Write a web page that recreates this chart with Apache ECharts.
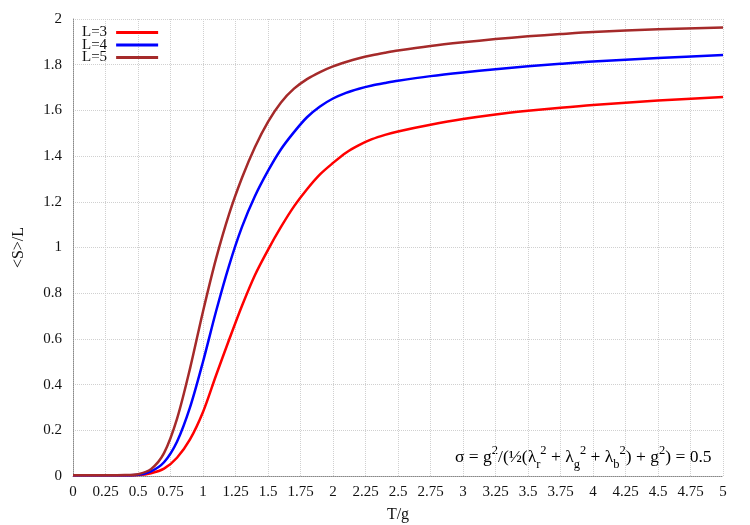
<!DOCTYPE html>
<html>
<head>
<meta charset="utf-8">
<script src="https://cdn.jsdelivr.net/npm/echarts@6/dist/echarts.min.js"></script>
<style>html,body{margin:0;padding:0;background:#fff;}#c{width:750px;height:525px;}</style>
</head>
<body>
<div id="c"></div>
<script>
const seriesNames = ['L=3', 'L=4', 'L=5'];
const tValues = [0,0.25,0.4,0.5,0.6,0.7,0.8,0.9,1.0,1.1,1.2,1.3,1.4,1.5,1.6,1.7,1.8,1.9,2.0,2.1,2.2,2.3,2.4,2.5,2.75,3.0,3.25,3.5,3.75,4.0,4.5,5.0];
const valuesL3 = [0.003,0.003,0.003,0.004,0.012,0.032,0.08,0.16,0.28,0.44,0.595,0.745,0.88,0.99,1.09,1.18,1.255,1.32,1.37,1.415,1.448,1.474,1.493,1.508,1.537,1.562,1.582,1.598,1.612,1.624,1.643,1.659];
const valuesL4 = [0.003,0.003,0.003,0.005,0.02,0.06,0.15,0.3,0.5,0.72,0.92,1.09,1.225,1.335,1.43,1.505,1.57,1.617,1.652,1.677,1.695,1.709,1.72,1.73,1.75,1.766,1.78,1.793,1.804,1.814,1.829,1.842];
const valuesL5 = [0.003,0.003,0.004,0.008,0.03,0.1,0.25,0.47,0.72,0.95,1.145,1.305,1.44,1.55,1.635,1.695,1.737,1.768,1.793,1.812,1.828,1.841,1.852,1.862,1.882,1.898,1.912,1.924,1.934,1.943,1.955,1.963];
const colors = ['#ff0000', '#0000ff', '#a52a2a'];
const xTicks = [0,0.25,0.5,0.75,1,1.25,1.5,1.75,2,2.25,2.5,2.75,3,3.25,3.5,3.75,4,4.25,4.5,4.75,5];
const yTicks = [0,0.2,0.4,0.6,0.8,1,1.2,1.4,1.6,1.8,2];

const FONT = 'Liberation Serif';
const chart = echarts.init(document.getElementById('c'), null, {renderer: 'canvas'});
const allValues = [valuesL3, valuesL4, valuesL5];
chart.setOption({
  animation: false,
  backgroundColor: '#fff',
  grid: {left: 73, right: 27, top: 19, bottom: 49, containLabel: false, outerBoundsMode: 'none'},
  legend: {
    orient: 'vertical', left: 77, top: 20, align: 'right',
    itemWidth: 42, itemHeight: 3, itemGap: -2.5,
    icon: 'rect',
    textStyle: {fontFamily: FONT, fontSize: 15, color: '#111', padding: [0, 4, 0, 0]},
    data: seriesNames
  },
  xAxis: {
    type: 'value', min: 0, max: 5, interval: 0.25,
    name: 'T/g', nameLocation: 'middle', nameGap: 31,
    nameTextStyle: {fontFamily: FONT, fontSize: 16, color: '#111'},
    axisLine: {show: true, lineStyle: {color: '#888', type: 'dotted'}},
    axisTick: {show: false},
    axisLabel: {fontFamily: FONT, fontSize: 15, color: '#111', margin: 9,
      formatter: v => xTicks.includes(v) ? String(v) : ''},
    splitLine: {show: true, lineStyle: {color: '#d0d0d0', type: 'dotted'}}
  },
  yAxis: {
    type: 'value', min: 0, max: 2, interval: 0.2,
    name: '<S>/L', nameLocation: 'middle', nameGap: 46, nameRotate: 90,
    nameTextStyle: {fontFamily: FONT, fontSize: 16, color: '#111'},
    axisLine: {show: true, lineStyle: {color: '#888', type: 'dotted'}},
    axisTick: {show: false},
    axisLabel: {fontFamily: FONT, fontSize: 15, color: '#111', margin: 11,
      formatter: v => { const t = yTicks.find(k => Math.abs(k - v) < 1e-9); return t === undefined ? '' : String(t); }},
    splitLine: {show: true, lineStyle: {color: '#d0d0d0', type: 'dotted'}}
  },
  series: seriesNames.map((n, i) => ({
    name: n, type: 'line', data: tValues.map((t, j) => [t, allValues[i][j]]),
    smooth: 0.3, showSymbol: false,
    lineStyle: {color: colors[i], width: 2.5}, itemStyle: {color: colors[i]}, z: 3 + i
  })),
  graphic: [{
    type: 'text', left: 455, top: 444,
    style: {
      text: '{b|σ = g}{sup|2}{b|/(½(λ}{sub|r}{sup|2}{b| + λ}{sub|g}{sup|2}{b| + λ}{sub|b}{sup|2}{b|) + g}{sup|2}{b|) = 0.5}',
      rich: {
        b: {fontFamily: FONT, fontSize: 17.5, color: '#111', lineHeight: 27, verticalAlign: 'middle'},
        sup: {fontFamily: FONT, fontSize: 12.5, color: '#111', lineHeight: 12, verticalAlign: 'top'},
        sub: {fontFamily: FONT, fontSize: 12.5, color: '#111', lineHeight: 12, verticalAlign: 'bottom'}
      }
    }
  }]
});
</script>
</body>
</html>
